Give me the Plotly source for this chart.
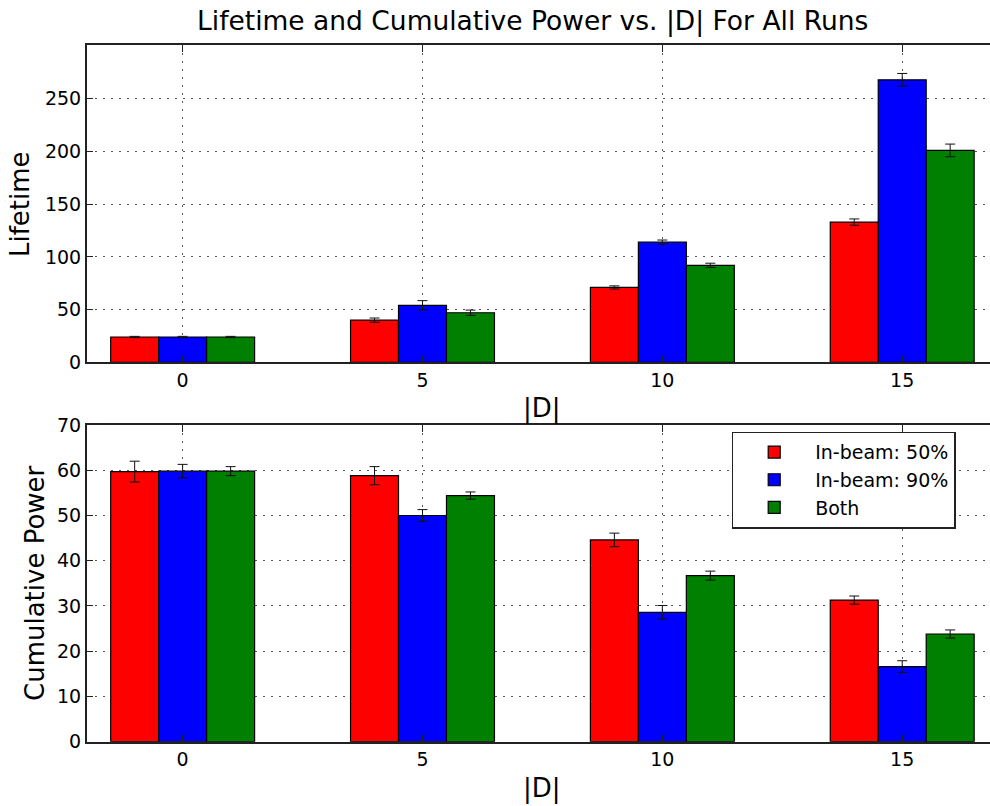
import plotly.graph_objects as go

# |D| values for each bar group
d_values = [0, 5, 10, 15]

series_names = ["In-beam: 50%", "In-beam: 90%", "Both"]
series_colors = ["#ff0000", "#0000ff", "#008000"]

# Lifetime (mean, error) per series
lifetime_50 = [24, 40, 71, 133]
lifetime_90 = [24, 54, 114, 268]
lifetime_both = [24, 47, 92, 201]
lifetime_50_err = [0.6, 2.0, 1.5, 3.0]
lifetime_90_err = [0.6, 4.5, 2.0, 6.0]
lifetime_both_err = [0.6, 2.5, 2.0, 6.0]

# Cumulative power (mean, error) per series
power_50 = [59.7, 58.8, 44.6, 31.3]
power_90 = [59.8, 50.0, 28.6, 16.6]
power_both = [59.8, 54.4, 36.7, 23.8]
power_50_err = [2.3, 2.0, 1.5, 0.9]
power_90_err = [1.5, 1.3, 1.5, 1.3]
power_both_err = [1.0, 0.8, 1.0, 0.9]

lifetime_ticks = [0, 50, 100, 150, 200, 250]
power_ticks = [0, 10, 20, 30, 40, 50, 60, 70]

lifetime_series = [(lifetime_50, lifetime_50_err), (lifetime_90, lifetime_90_err),
                   (lifetime_both, lifetime_both_err)]
power_series = [(power_50, power_50_err), (power_90, power_90_err),
                (power_both, power_both_err)]
bar_offsets = [-1.5, -0.5, 0.5]

FONT = "DejaVu Sans"
W, H = 990, 806
TICK_SIZE = 19
LABEL_SIZE = 26

fig = go.Figure()


def add_bars(series, xaxis, yaxis, show_legend):
    for (vals, errs), name, color, off in zip(series, series_names, series_colors, bar_offsets):
        fig.add_trace(go.Bar(
            x=d_values, y=vals, name=name, width=1.0, offset=off,
            marker=dict(color=color, line=dict(color="black", width=1.2)),
            error_y=dict(type="data", array=errs, visible=True, color="#111111",
                         thickness=1, width=5),
            xaxis=xaxis, yaxis=yaxis, showlegend=show_legend,
        ))


add_bars(lifetime_series, "x", "y", False)
add_bars(power_series, "x2", "y2", True)

x_left = 86.7 / W
top_dom = [1 - 362.3 / H, 1 - 45 / H]
bot_dom = [1 - 741.7 / H, 1 - 425 / H]

grid_style = dict(showgrid=True, gridcolor="#555555", griddash="2px,6px", gridwidth=1)

common_x = dict(
    grid_style,
    range=[-2.0, 16.83], tickvals=d_values, ticktext=[str(v) for v in d_values],
    showline=True, linecolor="#222222", linewidth=1.5, mirror="ticks",
    ticks="inside", ticklen=7, tickcolor="#222222", zeroline=False,
    tickfont=dict(family=FONT, size=TICK_SIZE, color="black"),
    automargin=False, domain=[x_left, 1],
)
common_y = dict(
    grid_style,
    showline=True, linecolor="#222222", linewidth=1.5,
    ticks="inside", ticklen=7, tickcolor="#222222", zeroline=False,
    tickfont=dict(family=FONT, size=TICK_SIZE, color="black"),
    automargin=False,
)

fig.update_layout(
    width=W, height=H,
    margin=dict(l=0, r=0, t=0, b=0),
    paper_bgcolor="white", plot_bgcolor="white",
    barmode="overlay",
    font=dict(family=FONT, color="black"),
    xaxis=dict(common_x, anchor="y"),
    yaxis=dict(common_y, range=[0, 301], tickvals=lifetime_ticks, domain=top_dom, anchor="x"),
    xaxis2=dict(common_x, anchor="y2"),
    yaxis2=dict(common_y, range=[0, 70], tickvals=power_ticks, domain=bot_dom, anchor="x2"),
    legend=dict(
        x=731.7 / W, y=1 - 431.7 / H, xanchor="left", yanchor="top",
        bgcolor="white", bordercolor="#222222", borderwidth=1.5,
        font=dict(family=FONT, size=19, color="black"),
        tracegroupgap=0, itemwidth=72,
    ),
    showlegend=True,
)


def label(text, x, y, size, angle=0):
    return dict(text=text, x=x / W, y=1 - y / H, xref="paper", yref="paper",
                xanchor="center", yanchor="middle", showarrow=False,
                textangle=angle, font=dict(family=FONT, size=size))


annotations = [
    label("Lifetime and Cumulative Power vs. |D| For All Runs", 532, 21, 26.5),
    label("Lifetime", 20, 204, LABEL_SIZE, -90),
    label("Cumulative Power", 35, 583, LABEL_SIZE, -90),
    label("|D|", 542, 409, LABEL_SIZE),
    label("|D|", 542, 788, LABEL_SIZE),
]
fig.update_layout(annotations=annotations)

fig.write_html("out.html")
